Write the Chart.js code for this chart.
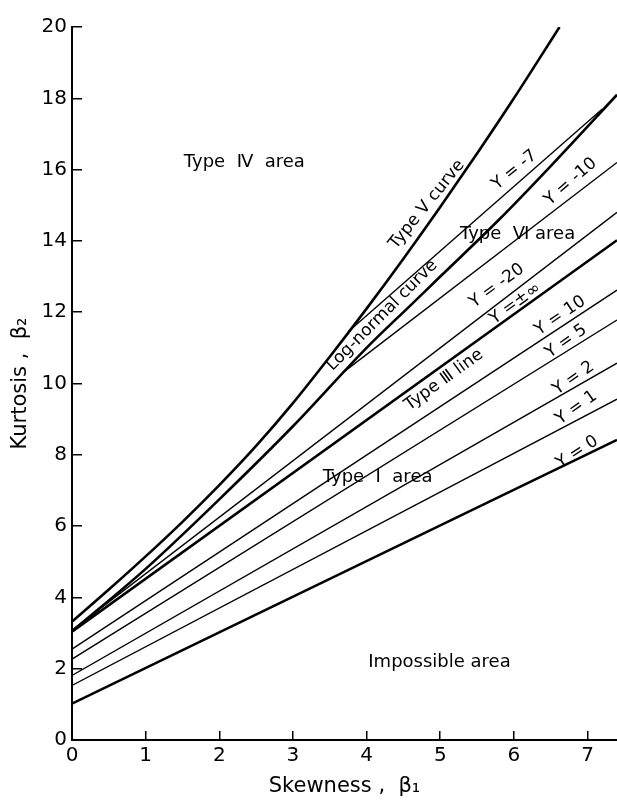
<!DOCTYPE html>
<html>
<head>
<meta charset="utf-8">
<script src="https://cdn.jsdelivr.net/npm/chart.js@4.4.1/dist/chart.umd.min.js"></script>
<style>
  html, body { margin: 0; padding: 0; background: #fff; }
  #wrap { width: 617px; height: 803px; }
</style>
</head>
<body>
<div id="wrap"><canvas id="pearsonChart" width="617" height="803"></canvas></div>
<script>
// Skewness (beta1) / kurtosis (beta2) plane

// Type V curve
const typeVSkew = [0, 0.5, 1, 1.5, 2, 2.5, 3, 3.5, 4, 4.5, 5, 5.5, 6, 6.62];
const typeVKurt = [3.32, 4.22, 5.15, 6.12, 7.15, 8.25, 9.45, 10.75, 12.1, 13.5, 14.95, 16.45, 18.0, 20];

// Log-normal curve
const logNormalSkew = [0, 1, 2, 3, 4, 4.6, 5, 5.8, 6.5, 7.4];
const logNormalKurt = [3.05, 4.8, 6.75, 8.8, 11.0, 12.2, 13.0, 14.6, 16.1, 18.1];

// straight lines: Y = const and the Type III line
const lineNames = ['Υ = 0', 'Υ = 1', 'Υ = 2', 'Υ = 5', 'Υ = 10', 'Type III', 'Υ = -20', 'Υ = -10', 'Υ = -7'];
const lineStartSkew = [0, 0, 0, 0, 0, 0, 0, 3.7, 3.75];
const lineStartKurt = [1.02, 1.53, 1.81, 2.27, 2.55, 3.04, 3.08, 10.34, 11.45];
const lineEndSkew = [7.4, 7.4, 7.4, 7.4, 7.4, 7.4, 7.4, 7.4, 7.2];
const lineEndKurt = [8.42, 9.56, 10.57, 11.78, 12.62, 14.02, 14.8, 16.2, 17.7];
const lineHeavy = [true, false, false, false, false, true, false, false, false];

// text written on the plane
const noteText = ['Type  Ⅳ  area', 'Type V curve', 'Log-normal curve', 'Υ = -7', 'Υ = -10', 'Type  Ⅵ area',
  'Υ = -20', 'Υ =±∞', 'Type Ⅲ line', 'Υ = 10', 'Υ = 5', 'Υ = 2', 'Υ = 1', 'Υ = 0', 'Type  I  area', 'Impossible area'];
const noteSkew = [2.34, 4.82, 4.21, 6.01, 6.77, 6.05, 5.77, 6.02, 5.05, 6.63, 6.71, 6.81, 6.85, 6.86, 4.15, 4.99];
const noteKurt = [16.19, 15.02, 11.91, 15.99, 15.66, 14.19, 12.74, 12.24, 10.10, 11.9, 11.18, 10.15, 9.32, 8.07, 7.37, 2.17];
const noteAngle = [0, -51, -45, -39, -41, 0, -36, -36, -36, -34, -35, -35, -35, -33, 0, 0];
const noteSize = [18, 17, 17, 17, 17, 18, 17, 17, 17, 17, 17, 17, 17, 17, 18, 18];

const xTicks = [0, 1, 2, 3, 4, 5, 6, 7];
const yTicks = [0, 2, 4, 6, 8, 10, 12, 14, 16, 18, 20];

const FONT = 'DejaVu Sans';

function zip(xs, ys) {
  return xs.map((x, i) => ({ x: x, y: ys[i] }));
}

const datasets = [];
datasets.push({
  label: 'Type V curve',
  data: zip(typeVSkew, typeVKurt),
  borderColor: '#000', borderWidth: 2.6, cubicInterpolationMode: 'monotone'
});
datasets.push({
  label: 'Log-normal curve',
  data: zip(logNormalSkew, logNormalKurt),
  borderColor: '#000', borderWidth: 2.6, cubicInterpolationMode: 'monotone'
});
lineNames.forEach((name, i) => {
  datasets.push({
    label: name,
    data: [{ x: lineStartSkew[i], y: lineStartKurt[i] }, { x: lineEndSkew[i], y: lineEndKurt[i] }],
    borderColor: '#000',
    borderWidth: lineHeavy[i] ? 2.6 : 1.4
  });
});

// writes the area / curve names along the lines
const notesPlugin = {
  id: 'notes',
  afterDatasetsDraw(chart) {
    const ctx = chart.ctx;
    const xs = chart.scales.x, ys = chart.scales.y;
    ctx.save();
    ctx.fillStyle = '#000';
    ctx.textAlign = 'center';
    ctx.textBaseline = 'middle';
    noteText.forEach((t, i) => {
      ctx.save();
      ctx.font = noteSize[i] + 'px "' + FONT + '"';
      ctx.translate(xs.getPixelForValue(noteSkew[i]), ys.getPixelForValue(noteKurt[i]));
      ctx.rotate(noteAngle[i] * Math.PI / 180);
      ctx.fillText(t, 0, 0);
      ctx.restore();
    });
    ctx.restore();
  }
};

new Chart(document.getElementById('pearsonChart'), {
  type: 'scatter',
  data: { datasets: datasets },
  plugins: [notesPlugin],
  options: {
    responsive: false,
    animation: false,
    showLine: true,
    elements: { point: { radius: 0 }, line: { fill: false } },
    layout: { padding: { top: 21, right: 0, left: 0, bottom: 0 } },
    plugins: { legend: { display: false }, tooltip: { enabled: false } },
    scales: {
      x: {
        type: 'linear', min: 0, max: 7.4,
        afterBuildTicks: (s) => { s.ticks = xTicks.map(v => ({ value: v })); },
        afterFit: (s) => { s.height = 63; },
        border: { display: true, color: '#000', width: 2 },
        grid: { display: true, drawOnChartArea: false, drawTicks: true, tickLength: -9, color: '#000', lineWidth: 1.5 },
        ticks: { color: '#000', padding: 13, font: { family: FONT, size: 20 } },
        title: { display: true, text: 'Skewness ,  β₁', color: '#000', padding: { top: 0, bottom: 4 }, font: { family: FONT, size: 21 } }
      },
      y: {
        type: 'linear', min: 0, max: 20,
        afterBuildTicks: (s) => { s.ticks = yTicks.map(v => ({ value: v })); },
        afterFit: (s) => { s.width = 72; },
        border: { display: true, color: '#000', width: 2 },
        grid: { display: true, drawOnChartArea: false, drawTicks: true, tickLength: -10, color: '#000', lineWidth: 1.5 },
        ticks: { color: '#000', padding: 15, font: { family: FONT, size: 20 } },
        title: { display: true, text: 'Kurtosis ,  β₂', color: '#000', padding: { top: 8, bottom: 0 }, font: { family: FONT, size: 21 } }
      }
    }
  }
});
</script>
</body>
</html>
